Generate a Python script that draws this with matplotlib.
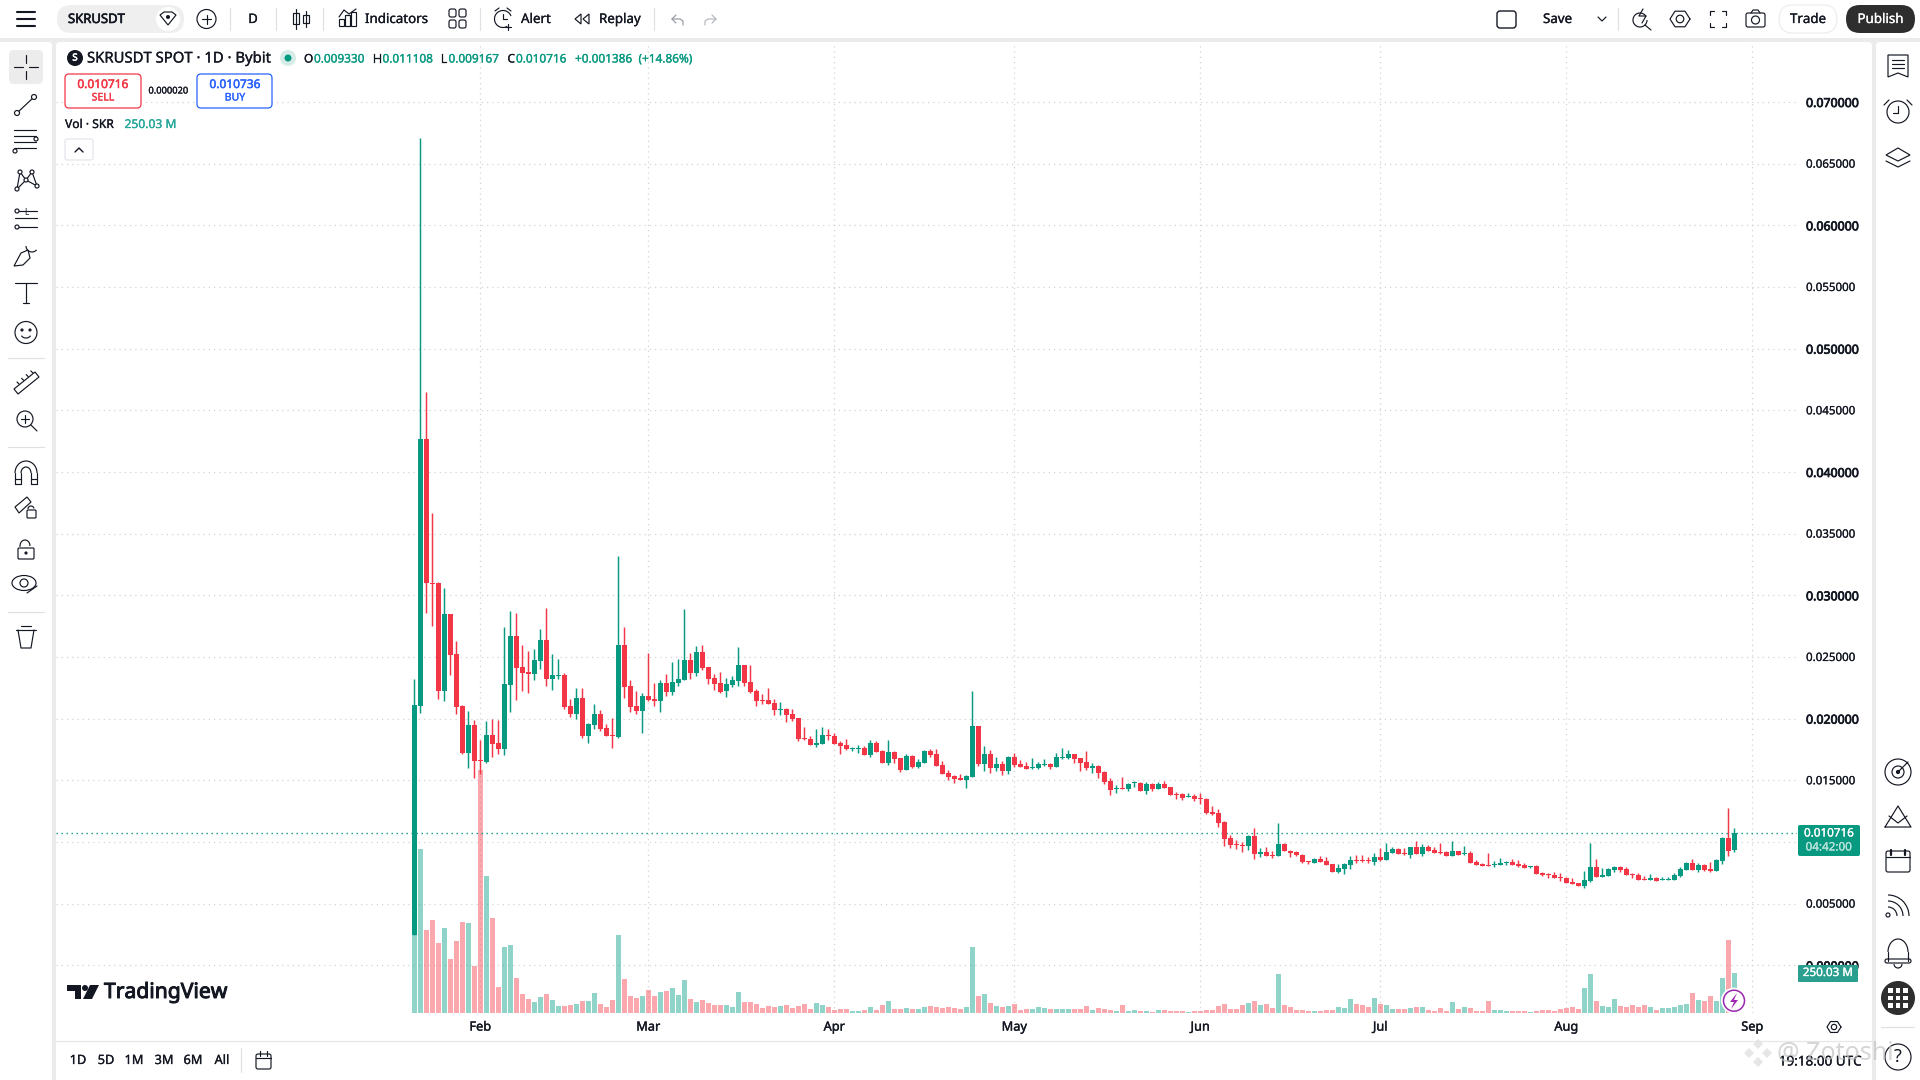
import numpy as np
import matplotlib
matplotlib.use("Agg")
import matplotlib.pyplot as plt
import matplotlib.patheffects as pe
from matplotlib.patches import Circle, FancyBboxPatch, Rectangle, Polygon, Ellipse, Arc

plt.rcParams['font.family'] = ['Noto Sans', 'DejaVu Sans']

# ---------- DATA (prices in millionths of USDT, volume in millions) ----------
opens = [2460,21050,42700,31030,31030,22270,28510,25270,21050,17240,
 19510,16680,16510,18700,18050,17570,22760,26730,24220,23810,
 23650,24700,26410,23240,23490,23570,21050,20410,21700,18620,
 19510,20410,19270,18700,18540,26000,22680,21050,20650,21860,
 21620,21460,22920,22190,22920,23160,24780,23730,25430,24220,
 23320,22920,22270,22760,23080,24380,23000,22270,21540,21540,
 21300,20730,20810,20410,20080,
 18459,18378,17891,17973,18702,18621,18054,17891,17567,17567,
 17648,17081,18054,17405,16432,17324,16837,15864,17000,16108,
 16432,17405,17162,16270,15621,15378,15215,15053,15297,19432,
 16351,17162,16026,16351,15783,16919,16351,16189,16026,16026,
 16270,16351,16108,16837,16837,17162,16837,16513,16026,16189,
 15702,14972,14324,14405,14324,14810,14810,14161,14729,14324,
 14729,14486,13918,13918,13675,13756,13594,13513,12459,12378,
 11648,10351,9864,9783,9702,10513,9054,9216,8972,8891,
 9865,9297,9162,8973,8432,8324,8649,8486,8243,7595,
 7838,8162,8568,8568,8568,8405,8811,8568,9135,9460,
 9135,8973,9622,9054,9622,9379,9216,9216,8892,9297,
 9054,9135,8405,8243,8162,8162,8162,8324,8405,8243,
 8162,8000,8081,7514,7432,7351,7189,7108,6784,6703,
 6459,6865,8000,7189,7270,7757,8000,7838,7432,7351,
 7027,6946,7108,6946,6946,6946,7270,7757,8324,7757,
 8162,7838,7676,8486,10352,9330]
highs = [23240,67100,46500,36680,31110,30620,28510,26320,21140,20650,
 19920,18300,19840,20000,19920,27460,28760,28600,26000,25510,
 25680,27300,29000,25270,24870,23730,21620,22510,22510,19680,
 21220,20730,19590,20080,33220,27460,23160,22270,22110,25350,
 22920,23160,23650,24620,24870,28920,25350,25920,26000,24220,
 23650,23810,23320,23490,25840,24380,24380,22430,22030,22510,
 21620,21380,20890,20810,20080,
 19351,18621,19189,19351,19189,18865,18216,18378,17729,17891,
 17810,18297,18216,17486,18297,17405,16837,17162,17081,16756,
 17486,17567,17567,16594,15864,15459,15540,15459,22270,19432,
 17810,17486,16919,16594,17000,17243,16675,16513,16837,16513,
 16756,16432,17243,17648,17486,17162,16837,17405,16432,16270,
 15783,15215,14648,15297,14810,14972,14891,14891,14810,14891,
 14972,14486,14080,13999,13999,13918,13999,13594,12945,12702,
 11729,10594,10189,10026,10594,11162,9540,9621,9297,11567,
 9946,9379,9243,9054,8486,8730,8892,8811,8243,8243,
 8324,8892,8973,8973,8811,9135,9541,9946,9622,9541,
 9541,9622,10108,9865,9784,9622,9946,9297,10108,9297,
 9703,9297,8568,8324,9135,8486,8730,8486,8649,8568,
 8324,8081,8162,7595,7514,7595,7514,7189,7108,6703,
 7676,9946,8649,7919,7919,8081,8081,8000,7514,7514,
 7270,7432,7189,7189,7189,7514,8000,8405,8649,8324,
 8243,8405,8649,10433,12784,11108]
lows = [2460,20490,28600,27540,21620,21460,23570,20410,17160,16030,
 15220,15540,16430,16920,17160,17080,20570,21540,22270,22110,
 23160,24050,22680,22350,23240,20810,20160,20000,18460,18050,
 19190,19030,18620,17650,18460,21700,20570,20410,18860,21460,
 21050,20570,21860,21950,22680,23160,23240,23490,23970,22840,
 22350,22110,21780,22590,22680,22680,22110,21050,21220,21220,
 20320,20320,19760,19840,18220,
 18297,17891,17729,17973,18297,17973,17162,17486,17405,17243,
 17081,16919,17324,16432,16270,16432,15702,15864,16026,16026,
 16432,16919,16189,15540,15053,14810,15053,14405,15297,16189,
 15783,15621,15783,15459,15540,16108,16108,15945,15945,15945,
 16189,15945,16108,16756,16756,16432,15783,15864,15621,15215,
 14729,13837,13999,14324,14161,14486,14161,13918,14161,14324,
 14405,13837,13513,13431,13675,13350,13107,12297,12216,11243,
 9702,9540,9459,9216,9378,8648,8810,8891,8729,8891,
 9243,8811,8892,8324,8243,8324,8405,8162,7595,7514,
 7432,7838,8324,8405,8324,8162,8486,8568,9135,9054,
 8973,8730,9054,8892,9297,9135,9054,8892,8892,8973,
 8973,8324,8162,8081,8081,8000,8162,8162,8162,8000,
 7919,7919,7432,7270,7108,7108,6865,6703,6622,6459,
 6297,6784,7189,7189,7270,7595,7595,7351,7108,6946,
 6946,6946,6865,6946,6946,6946,7189,7757,7757,7595,
 7676,7595,7676,8243,8892,9167]
closes = [21140,42700,30970,30950,22270,28510,25190,20970,17240,19510,
 16590,16590,18700,17970,17570,22840,26730,24140,23730,23650,
 24780,26410,23240,23570,23570,20970,20410,21700,18620,19590,
 20410,19190,18620,18620,26000,22590,20970,20650,21860,21540,
 21460,22920,22190,23000,23240,24780,23730,25430,24140,23240,
 22840,22190,22840,23160,24380,22920,22190,21460,21460,21220,
 20730,20810,20320,20000,18380,
 18351,17891,18054,18702,18621,17973,17810,17567,17648,17648,
 17081,18054,17324,16432,17324,16756,15864,17000,16108,16513,
 17405,17081,16189,15540,15297,15134,15053,15378,19432,16351,
 17162,16026,16351,15783,16919,16270,16108,15945,16108,16351,
 16351,16108,16919,16919,17162,16756,16432,16026,16189,15621,
 14891,14243,14405,14324,14729,14891,14161,14729,14324,14729,
 14405,13837,13837,13594,13756,13513,13513,12378,12297,11567,
 10270,9783,9783,9702,10513,9054,9216,8891,8891,9864,
 9243,9081,8919,8351,8351,8649,8405,8162,7595,7919,
 8243,8568,8486,8486,8486,8811,8568,9216,9460,9054,
 9054,9622,9054,9622,9297,9135,9135,8892,9297,8973,
 9135,8324,8162,8081,8081,8243,8324,8405,8162,8081,
 7919,8081,7432,7351,7351,7108,7108,6703,6622,6459,
 6946,8000,7189,7351,7838,8000,7757,7351,7351,6946,
 6946,7108,6865,7027,7027,7351,7838,8324,7757,8162,
 7757,7676,8568,10352,9297,10716]
volumes = [487,1025,519,581,437,531,337,450,569,562,
 294,1519,856,594,162,412,425,219,119,87,
 69,100,119,81,44,44,50,56,75,75,
 125,56,37,81,487,212,106,94,106,144,
 106,131,137,156,112,206,87,69,81,62,
 50,50,50,37,131,69,69,56,31,44,
 37,44,50,31,44,56,25,62,50,37,
 19,25,25,12,12,19,37,19,50,75,
 25,25,31,25,25,37,44,37,31,37,
 31,25,37,412,106,119,62,44,37,44,
 56,19,25,25,37,31,25,25,25,25,
 25,25,44,19,31,25,19,12,50,12,
 19,12,12,6,19,19,12,12,12,6,
 12,12,19,19,44,56,25,25,50,62,
 75,50,56,31,244,50,37,19,19,12,
 12,12,19,19,37,31,87,56,50,37,
 94,56,50,25,25,25,31,37,37,19,
 12,31,12,69,25,37,31,12,12,75,
 19,19,12,12,12,12,6,12,19,19,
 12,25,31,37,25,156,244,75,44,37,
 87,44,37,50,37,50,37,19,31,31,
 37,50,56,125,81,75,106,75,219,456,250]
month_labels = ['Feb','Mar','Apr','May','Jun','Jul','Aug','Sep']
month_positions = [11,39,70,100,131,161,192,223]
price_ticks = [0.000,0.005,0.010,0.015,0.020,0.025,0.030,0.035,0.040,0.045,0.050,0.055,0.060,0.065,0.070]
last_price = 0.010716
last_volume_label = '250.03 M'

UP, DOWN = '#089981', '#f23645'
VUP, VDOWN = '#22ab94', '#f7525f'
INK = '#131722'
BAND = '#ebebeb'
GRID = '#d3d3d3'

W, H = 1920, 1080
fig = plt.figure(figsize=(W/100, H/100), dpi=100, facecolor=BAND)

def heavy(width, color):
    return [pe.withStroke(linewidth=width, foreground=color)]

# ---------- background panels ----------
bg = fig.add_axes([0,0,1,1], zorder=0); bg.set_xlim(0,W); bg.set_ylim(H,0); bg.axis('off')
def panel(x0,y0,x1,y1,r=4,fc='white',ax=bg,ec='none',lw=0,z=1):
    ax.add_patch(FancyBboxPatch((x0+r,y0+r),x1-x0-2*r,y1-y0-2*r,boxstyle=f'round,pad={r},rounding_size={r}',fc=fc,ec=ec,lw=lw,zorder=z,mutation_aspect=1))
panel(-10,-10,W+10,38,r=2)
panel(-10,42,52,H+10)
panel(56,42,1872,H+10)
panel(1876,42,W+10,H+10)

# ---------- price pane ----------
x0_px, x1_px, y0_px, y1_px = 56, 1797, 42, 1013
rect = [x0_px/W, 1-y1_px/H, (x1_px-x0_px)/W, (y1_px-y0_px)/H]
xlim = ((x0_px-414.3)/6, (x1_px-414.3)/6)
ylim = ((965.3-y1_px)/12333, (965.3-y0_px)/12333)

ax = fig.add_axes(rect, zorder=1); ax.patch.set_visible(False)
ax.set_xlim(xlim); ax.set_ylim(ylim)
for s in ax.spines.values(): s.set_visible(False)
ax.yaxis.tick_right()
ax.set_yticks(price_ticks)
ax.set_yticklabels([f'{v:.6f}' for v in price_ticks])
for v,lab in zip(price_ticks, ax.get_yticklabels()):
    lab.set_fontsize(8.3); lab.set_color(INK)
    major = round(v*1000) % 10 == 0
    lab.set_path_effects(heavy(0.55 if major else 0.15, INK))
    if major:
        lab.set_fontsize(8.9)
ax.set_xticks(month_positions); ax.set_xticklabels(month_labels, fontsize=9.2, color=INK)
for lab in ax.get_xticklabels():
    lab.set_path_effects(heavy(0.25, INK))
ax.tick_params(axis='both', length=0, pad=6.5)
ax.tick_params(axis='x', pad=5.5)
ax.grid(True, color=GRID, lw=0.9, ls=(0,(1,3.2)))
ax.set_axisbelow(True)

vol = fig.add_axes(rect, zorder=2, sharex=ax); vol.patch.set_visible(False); vol.axis('off')
vol.set_ylim(0, (y1_px-y0_px)*6.25)
ids = np.arange(len(closes))
o,h,l,c = [np.array(a)/1e6 for a in (opens,highs,lows,closes)]
up = c >= o
vol.bar(ids, volumes, width=0.83, color=[VUP if u else VDOWN for u in up], alpha=0.5, lw=0)

cd = fig.add_axes(rect, zorder=3, sharex=ax, sharey=ax); cd.patch.set_visible(False); cd.axis('off')
cols = [UP if u else DOWN for u in up]
cd.axhline(last_price, color=UP, lw=1, ls=(0,(1,2.6)), zorder=1)
cd.vlines(ids, l, h, colors=cols, lw=1.05, zorder=2)
cd.bar(ids, np.abs(c-o), bottom=np.minimum(o,c), width=0.83, color=cols, lw=0, zorder=3)

# ---------- UI overlay ----------
ui = fig.add_axes([0,0,1,1], zorder=5); ui.set_xlim(0,W); ui.set_ylim(H,0); ui.axis('off'); ui.patch.set_visible(False)
def T(x,y,s,size=9.4,color=INK,ha='left',va='center',heavyness=0.2,zorder=12,**k):
    t = ui.text(x,y,s,fontsize=size,color=color,ha=ha,va=va,zorder=zorder,**k)
    if heavyness:
        t.set_path_effects(heavy(heavyness,color))
def L(xs,ys,lw=0.85,color=INK,z=7,**k):
    ui.plot(xs,ys,color=color,lw=lw,solid_capstyle='round',zorder=z,**k)
def C(x,y,r,fc='none',ec=INK,lw=0.85,z=6):
    ui.add_patch(Circle((x,y),r,fc=fc,ec=ec,lw=lw,zorder=z))
def R(x0,y0,x1,y1,r=2,fc='none',ec=INK,lw=0.85,z=4):
    panel(x0,y0,x1,y1,r=r,fc=fc,ec=ec,lw=lw,ax=ui,z=z)
def hexa(x,y,r):
    a=np.deg2rad(np.arange(0,361,60))
    L(x+r*np.cos(a),y+0.9*r*np.sin(a))
    C(x,y,r*0.38)
def A(x,y,w,h_,t1,t2,lw=0.85):
    ui.add_patch(Arc((x,y),w,h_,theta1=t1,theta2=t2,ec=INK,lw=lw,zorder=7))

# top toolbar
for yy in (12,19,26): L([17,35],[yy,yy],lw=1.5,color='#131722')
R(57,5,184,33,r=14,fc='#efefef',ec='none',lw=0)
T(68,19.5,'SKRUSDT',size=9.4,heavyness=0.45)
C(168,19,12,fc='white',ec='none')
ui.add_patch(Polygon([[160,15],[164,12],[172,12],[176,15],[168,25]],fc='none',ec=INK,lw=0.85,zorder=7))
C(168,17,2,fc=INK,ec='none',z=8)
C(206.5,19,9.5); L([202,211],[19,19]); L([206.5,206.5],[14.5,23.5])
for xx in (230,276,323,480,654,1618): L([xx,xx],[8,30],color='#e0e0e0')
T(253,19.5,'D',ha='center')
L([296,296],[9,29]); ui.add_patch(Rectangle((293,13),6,11,fc='none',ec=INK,lw=0.85,zorder=7))
L([306,306],[11,27]); ui.add_patch(Rectangle((303,15),6,8,fc='none',ec=INK,lw=0.85,zorder=7))
for xx,hh in ((341,7),(347,11),(353,14)): ui.add_patch(Rectangle((xx-2.5,26-hh),5,hh,fc='none',ec=INK,lw=0.85,zorder=7))
L([339,344,349,356],[17,10,14,9])
T(365,19.5,'Indicators',size=9.6)
for xx in (449,459):
    for yy in (13,24): R(xx,yy-4,xx+7,yy+4,r=2)
A(503,19,17,17,60,340)
L([503,503,507],[14,19,19]); L([495,499],[11,8]); L([511,507],[11,8]); L([508,508],[24,30]); L([505,511],[27,27])
T(521,19.5,'Alert',size=9.6)
ui.add_patch(Polygon([[575,19],[581,14],[581,24]],fc='none',ec=INK,lw=0.85,zorder=7))
ui.add_patch(Polygon([[583,19],[589,14],[589,24]],fc='none',ec=INK,lw=0.85,zorder=7))
T(599,19.5,'Replay',size=9.6)
L([676,672,676],[15,19,23],color='#9598a1'); L([672,680,683,683],[19,19,21,25],color='#9598a1')
L([712,716,712],[15,19,23],color='#b2b5be'); L([716,708,705,705],[19,19,21,25],color='#b2b5be')
R(1497,11,1516,28,r=3,lw=1)
T(1543,19.5,'Save',size=9.6)
L([1598,1602,1606],[17,21,17])
A(1640,20,14,14,0,330)
L([1645,1651],[25,30]); L([1643,1639,1646,1642],[9,16,16,23])
hexa(1680,19,10)
for sx,sy in ((-1,-1),(1,-1),(-1,1),(1,1)):
    L([1718+sx*4,1718+sx*8,1718+sx*8],[19+sy*8,19+sy*8,19+sy*4])
R(1746,13,1765,27,r=2); C(1755.5,20,4); L([1751,1753,1758,1760],[13,10,10,13])
R(1779,5,1837,33,r=14,fc='white',ec='#ececec',lw=0.8)
T(1808,19.5,'Trade',ha='center',size=9.6)
R(1846,5,1915,33,r=14,fc='#2e2e2e',ec='none',lw=0)
T(1880.5,19.5,'Publish',ha='center',color='white',size=9.6)

# chart legend
C(75,58,8,fc='#131722',ec='none')
T(75,58,'S',size=7,color='white',ha='center',heavyness=0.4)
T(87,59,'SKRUSDT SPOT · 1D · Bybit',size=10.7)
C(288,58,8,fc='#d7ece8',ec='none'); C(288,58,3.5,fc=UP,ec='none',z=7)
for x,s,col in ((304,'O',INK),(314,'0.009330',UP),(373,'H',INK),(382.5,'0.011108',UP),(441,'L',INK),(448.5,'0.009167',UP),
                (507.5,'C',INK),(516,'0.010716',UP),(575,'+0.001386',UP),(638.5,'(+14.86%)',UP)):
    T(x,59,s,size=8.5,color=col)
R(65,74,141,108,r=4,fc='white',ec=DOWN,lw=0.9)
T(103,84.5,'0.010716',size=8.6,color=DOWN,ha='center',heavyness=0.35)
T(103,98,'SELL',size=7.6,color=DOWN,ha='center')
T(168.5,91,'0.000020',size=6.7,ha='center')
R(197,74,272,108,r=4,fc='white',ec='#2962ff',lw=0.9)
T(235,84.5,'0.010736',size=8.6,color='#2962ff',ha='center',heavyness=0.35)
T(235,98,'BUY',size=7.6,color='#2962ff',ha='center')
T(65,124.5,'Vol · SKR',size=8.7)
T(124.5,124.5,last_volume_label,size=8.7,color='#26a69a')
R(65,139,93,160,r=2,fc='white',ec='#e0e3eb',lw=0.8)
L([75,79,83],[152,148,152],lw=1.0)

# TradingView logo
ui.add_patch(Polygon([[67,985],[81,985],[81,999],[75,999],[75,991],[67,991]],fc='#131722',ec='none',zorder=7))
C(85,988,3,fc='#131722',ec='none')
ui.add_patch(Polygon([[90,985],[99,985],[92,999],[83,999]],fc='#131722',ec='none',zorder=7))
T(104,992.5,'TradingView',size=15.2,heavyness=0.7,color='#131722')

# axis badges
R(1798,825,1860,856,r=2,fc=UP,ec='none',lw=0,z=6)
T(1829,834,'0.010716',size=8.4,color='white',ha='center')
T(1829,848,'04:42:00',size=8.4,color='#b8e3dc',ha='center')
R(1798,965,1858,982,r=1,fc='#2a9f90',ec='none',lw=0,z=6)
T(1828,973.5,last_volume_label,size=8.4,color='white',ha='center')
C(1734,1000.7,13,fc='white',ec='none')
C(1734,1000.7,10.5,fc='white',ec='#9c27b0',lw=1.1,z=7)
ui.add_patch(Polygon([[1737,993],[1730,1002],[1734,1002],[1731,1009],[1738,1000],[1734,1000]],fc='#9c27b0',ec='none',zorder=8))

# bottom bar
L([56,1872],[1041,1041],color='#e6e6e6')
for x,s in ((78,'1D'),(106,'5D'),(134,'1M'),(164,'3M'),(193,'6M'),(222,'All')):
    T(x,1060.5,s,size=9.2,ha='center')
L([241,241],[1048,1072],color='#e0e0e0')
R(256,1054,271,1069,r=2); L([256,271],[1058,1058]); L([260,260],[1051,1056]); L([267,267],[1051,1056])
hexa(1834,1027,7)
T(1820,1062,'19:18:00 UTC',size=9.7,ha='center',zorder=10)

# watermark
for dx,dy in ((0,-9),(-9,0),(9,0),(0,9)):
    ui.add_patch(Polygon([[1758+dx,1053+dy-5],[1758+dx+5,1053+dy],[1758+dx,1053+dy+5],[1758+dx-5,1053+dy]],fc='#e2e2e2',ec='none',alpha=0.85,zorder=8))
T(1777,1054,'@ Zotoshi',size=18,color='#c4c4c4',alpha=0.7,heavyness=0,zorder=11)

# right toolbar
xr = 1898
ui.add_patch(Polygon([[xr-10,55],[xr+10,55],[xr+10,77],[xr,73],[xr-10,77]],fc='none',ec=INK,lw=0.85,zorder=7))
for yy in (60,64,68): L([xr-6,xr+6],[yy,yy])
C(xr,112,11); L([xr,xr,xr-5],[106,113,113]); L([xr-14,xr-9],[105,100]); L([xr+14,xr+9],[105,100])
ui.add_patch(Polygon([[xr,148],[xr+12,155],[xr,161],[xr-12,155]],fc='none',ec=INK,lw=0.85,zorder=7))
L([xr-12,xr,xr+12],[161,167,161])
C(xr,772,13); C(xr,772,6); L([xr,xr+10],[772,762]); C(xr,772,1.5,fc=INK)
L([xr-13,xr,xr+13,xr-13],[827,806,827,827]); L([xr-9,xr,xr+9],[816,823,816])
R(xr-12,851,xr+12,872,r=2); L([xr-12,xr+12],[857,857]); L([xr-7,xr-7],[850,855],lw=1.6); L([xr+7,xr+7],[850,855],lw=1.6)
for r_ in (7,13,19): A(xr-10,916,2*r_+4,2*r_+4,270,360)
C(xr-10,915,2)
A(xr,952,20,26,180,360); L([xr-10,xr-10],[952,961]); L([xr+10,xr+10],[952,961])
R(xr-13,959,xr+13,963,r=2,fc='white'); A(xr,964,8,8,0,180)
C(xr,998,17,fc='#2e2e2e',ec='none')
for dx in (-7.5,0,7.5):
    for dy in (-7.5,0,7.5):
        ui.add_patch(Rectangle((xr+dx-2.2,998+dy-2.2),4.4,4.4,fc='white',ec='none',zorder=7))
L([1881,1914],[1027,1027],color='#e0e0e0')
C(xr,1057,13); T(xr,1057,'?',size=13,ha='center',heavyness=0)

# left toolbar
xl = 26
R(9,50,43,84,r=5,fc='#ececec',ec='none',lw=0)
L([xl-12,xl-3],[67,67]); L([xl+3,xl+12],[67,67]); L([xl,xl],[55,63]); L([xl,xl],[71,79])
L([xl-9,xl+8],[113,97]); C(xl-9,113,2.5,fc='white',z=8); C(xl+8,97,2.5,fc='white',z=8)
for yy in (130,136,142,148): L([xl-12,xl+10],[yy,yy])
C(xl+10,139,2,fc='white',z=8); C(xl-11,151,2,fc='white',z=8)
pts=[(xl-6,172),(xl+6,172),(xl,180),(xl+11,186),(xl-9,189)]
L([pts[i][0] for i in (4,0,2,1,3,2,4)],[pts[i][1] for i in (4,0,2,1,3,2,4)])
for p in pts: C(p[0],p[1],2,fc='white',z=8)
L([xl-11,xl+11],[211,211]); L([xl-11,xl+11],[218,218]); L([xl-11,xl+11],[227,227])
T(xl,217,'L',size=6,ha='center',va='bottom',heavyness=0); C(xl-9,211,2,fc='white',z=8); C(xl-9,227,2,fc='white',z=8)
ui.add_patch(Polygon([[xl-12,266],[xl-5,253],[xl+2,250],[xl+4,258],[xl-3,265]],fc='none',ec=INK,lw=0.85,zorder=7))
A(xl+6,246,12,12,40,180)
L([xl-11,xl+11],[283,283]); L([xl,xl],[283,303]); L([xl-3,xl+3],[303,303])
C(xl,332.5,11); C(xl-4,330,1,fc=INK,z=8); C(xl+4,330,1,fc=INK,z=8)
A(xl,334,10,8,20,160)
L([8,44],[358,358],color='#e0e0e0')
ui.add_patch(Polygon([[xl-12,389],[xl+9,372],[xl+13,377],[xl-8,394]],fc='none',ec=INK,lw=0.85,zorder=7))
for k_ in range(4):
    L([xl-7+k_*4.6,xl-9+k_*4.6],[384-k_*3.7,382-k_*3.7])
C(xl-1,419,8); L([xl+5,xl+11],[425,431]); L([xl-5,xl+3],[419,419]); L([xl-1,xl-1],[415,423])
L([8,44],[447,447],color='#e0e0e0')
A(xl,473,22,24,180,360); A(xl,473,10,12,180,360)
L([xl-11,xl-11,xl-5,xl-5],[473,484,484,473]); L([xl+11,xl+11,xl+5,xl+5],[473,484,484,473]); L([xl-11,xl-5],[479,479]); L([xl+5,xl+11],[479,479])
ui.add_patch(Polygon([[xl-11,507],[xl+1,497],[xl+5,502],[xl-7,513]],fc='none',ec=INK,lw=0.85,zorder=7))
R(xl+1,510,xl+10,518,r=1,fc='white'); A(xl+5,509,6,6,180,350)
R(xl-8,548,xl+8,559,r=1); C(xl,553,1,fc=INK); A(xl-1,546,10,12,170,360)
ui.add_patch(Ellipse((xl-2,583),24,15,fc='none',ec=INK,lw=0.85,zorder=7)); C(xl-2,583,4)
L([xl+1,xl+11],[593,586])
L([8,44],[612,612],color='#e0e0e0')
L([xl-10,xl+10],[630,630]); L([xl-5,xl+5],[626,626])
L([xl-8,xl-5,xl+5,xl+8],[630,648,648,630])

fig.savefig('out.png', dpi=100, facecolor=fig.get_facecolor())
